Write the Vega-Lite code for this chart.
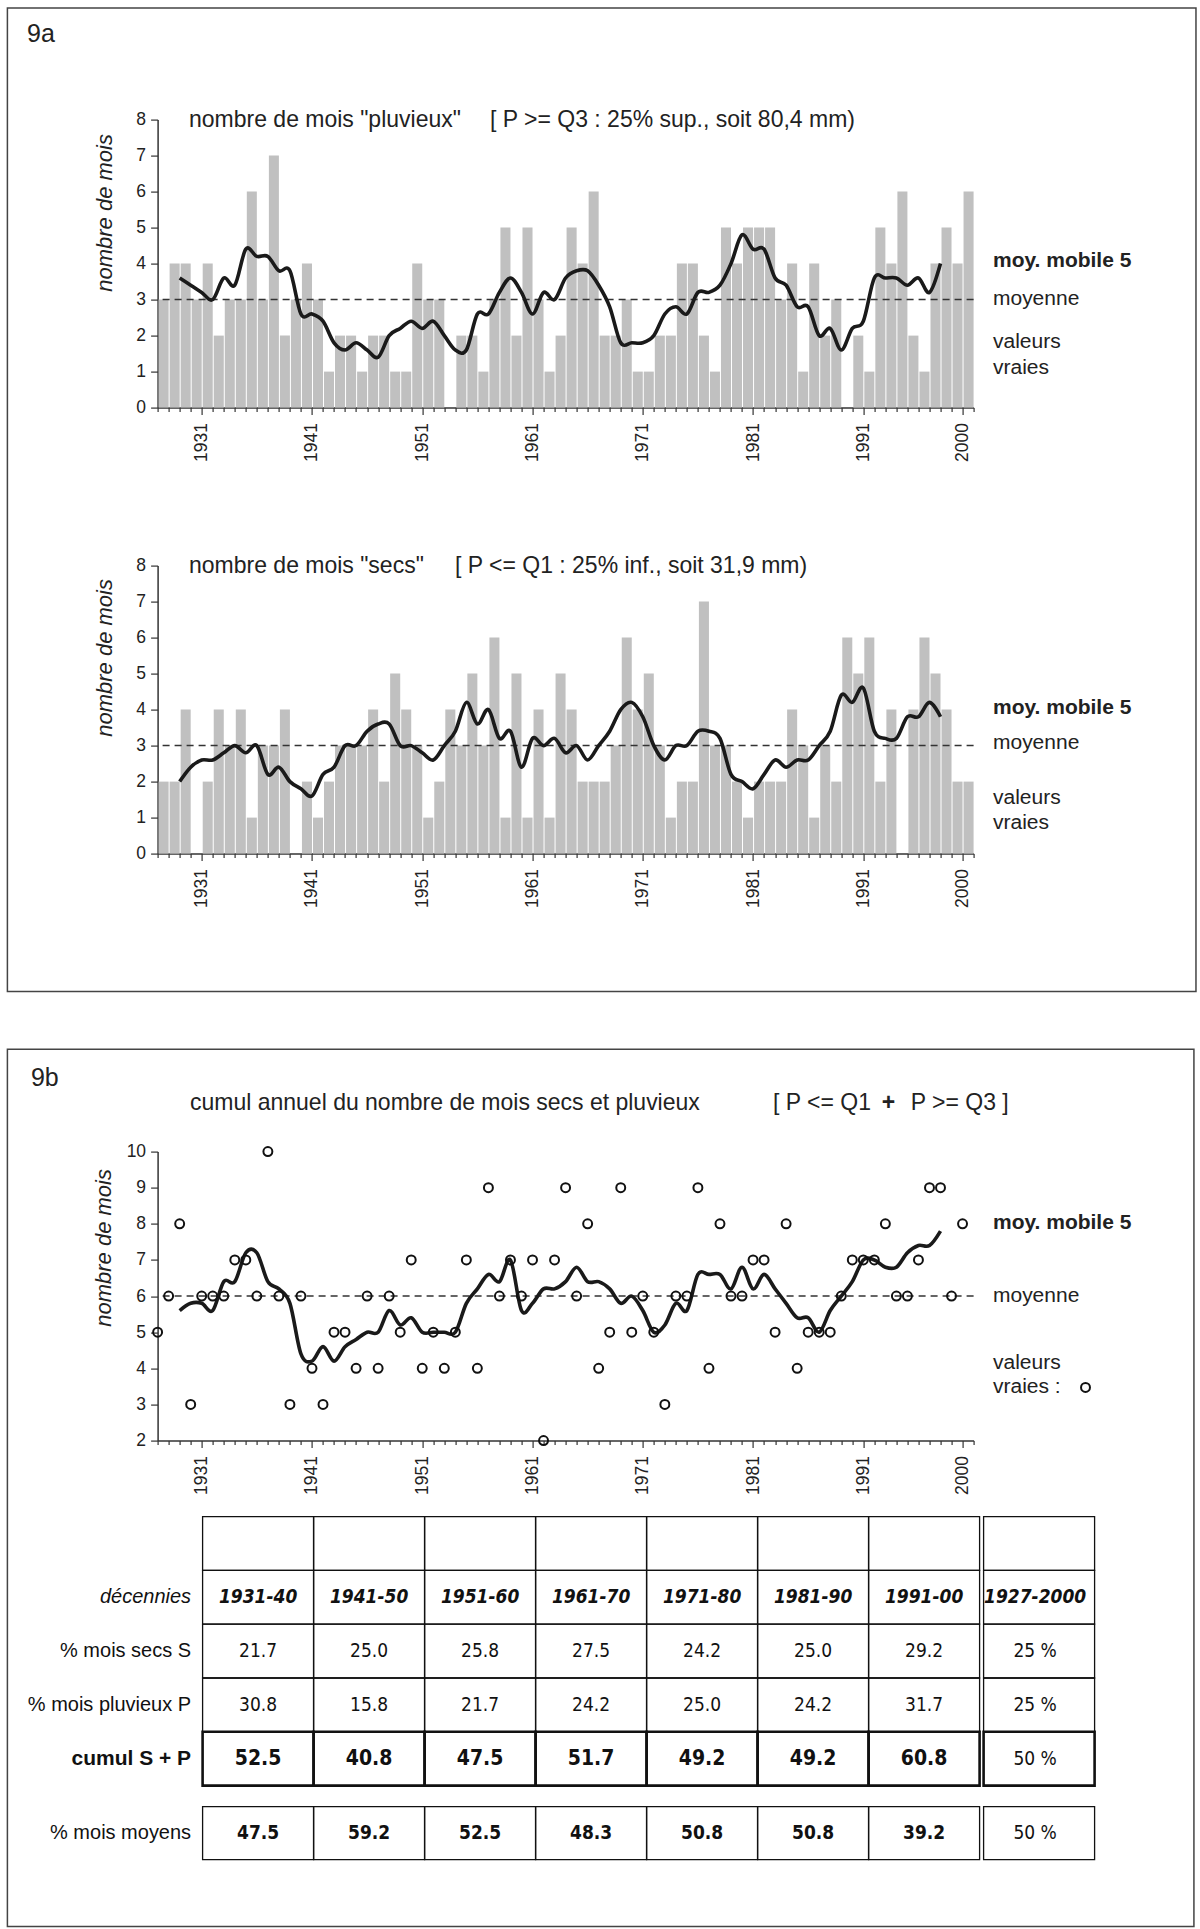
{
 "$schema": "https://vega.github.io/schema/vega-lite/v6.json",
 "padding": {"left": 6.6, "top": 6.6, "right": 2, "bottom": 2},
 "background": "white",
 "datasets": {
  "years": [
   {"year":"1927","P":3,"S":2,"T":5},{"year":"1928","P":4,"S":2,"T":6},{"year":"1929","P":4,"S":4,"T":8},{"year":"1930","P":3,"S":0,"T":3},
   {"year":"1931","P":4,"S":2,"T":6},{"year":"1932","P":2,"S":4,"T":6},{"year":"1933","P":3,"S":3,"T":6},{"year":"1934","P":3,"S":4,"T":7},
   {"year":"1935","P":6,"S":1,"T":7},{"year":"1936","P":3,"S":3,"T":6},{"year":"1937","P":7,"S":3,"T":10},{"year":"1938","P":2,"S":4,"T":6},
   {"year":"1939","P":3,"S":0,"T":3},{"year":"1940","P":4,"S":2,"T":6},{"year":"1941","P":3,"S":1,"T":4},{"year":"1942","P":1,"S":2,"T":3},
   {"year":"1943","P":2,"S":3,"T":5},{"year":"1944","P":2,"S":3,"T":5},{"year":"1945","P":1,"S":3,"T":4},{"year":"1946","P":2,"S":4,"T":6},
   {"year":"1947","P":2,"S":2,"T":4},{"year":"1948","P":1,"S":5,"T":6},{"year":"1949","P":1,"S":4,"T":5},{"year":"1950","P":4,"S":3,"T":7},
   {"year":"1951","P":3,"S":1,"T":4},{"year":"1952","P":3,"S":2,"T":5},{"year":"1953","P":0,"S":4,"T":4},{"year":"1954","P":2,"S":3,"T":5},
   {"year":"1955","P":2,"S":5,"T":7},{"year":"1956","P":1,"S":3,"T":4},{"year":"1957","P":3,"S":6,"T":9},{"year":"1958","P":5,"S":1,"T":6},
   {"year":"1959","P":2,"S":5,"T":7},{"year":"1960","P":5,"S":1,"T":6},{"year":"1961","P":3,"S":4,"T":7},{"year":"1962","P":1,"S":1,"T":2},
   {"year":"1963","P":2,"S":5,"T":7},{"year":"1964","P":5,"S":4,"T":9},{"year":"1965","P":4,"S":2,"T":6},{"year":"1966","P":6,"S":2,"T":8},
   {"year":"1967","P":2,"S":2,"T":4},{"year":"1968","P":2,"S":3,"T":5},{"year":"1969","P":3,"S":6,"T":9},{"year":"1970","P":1,"S":4,"T":5},
   {"year":"1971","P":1,"S":5,"T":6},{"year":"1972","P":2,"S":3,"T":5},{"year":"1973","P":2,"S":1,"T":3},{"year":"1974","P":4,"S":2,"T":6},
   {"year":"1975","P":4,"S":2,"T":6},{"year":"1976","P":2,"S":7,"T":9},{"year":"1977","P":1,"S":3,"T":4},{"year":"1978","P":5,"S":3,"T":8},
   {"year":"1979","P":4,"S":2,"T":6},{"year":"1980","P":5,"S":1,"T":6},{"year":"1981","P":5,"S":2,"T":7},{"year":"1982","P":5,"S":2,"T":7},
   {"year":"1983","P":3,"S":2,"T":5},{"year":"1984","P":4,"S":4,"T":8},{"year":"1985","P":1,"S":3,"T":4},{"year":"1986","P":4,"S":1,"T":5},
   {"year":"1987","P":2,"S":3,"T":5},{"year":"1988","P":3,"S":2,"T":5},{"year":"1989","P":0,"S":6,"T":6},{"year":"1990","P":2,"S":5,"T":7},
   {"year":"1991","P":1,"S":6,"T":7},{"year":"1992","P":5,"S":2,"T":7},{"year":"1993","P":4,"S":4,"T":8},{"year":"1994","P":6,"S":0,"T":6},
   {"year":"1995","P":2,"S":4,"T":6},{"year":"1996","P":1,"S":6,"T":7},{"year":"1997","P":4,"S":5,"T":9},{"year":"1998","P":5,"S":4,"T":9},
   {"year":"1999","P":4,"S":2,"T":6},{"year":"2000","P":6,"S":2,"T":8}
  ],
  "ma": [
   {"year":"1929","P":3.6,"S":2.0,"T":5.6},{"year":"1930","P":3.4,"S":2.4,"T":5.8},{"year":"1931","P":3.2,"S":2.6,"T":5.8},{"year":"1932","P":3.0,"S":2.6,"T":5.6},
   {"year":"1933","P":3.6,"S":2.8,"T":6.4},{"year":"1934","P":3.4,"S":3.0,"T":6.4},{"year":"1935","P":4.4,"S":2.8,"T":7.2},{"year":"1936","P":4.2,"S":3.0,"T":7.2},
   {"year":"1937","P":4.2,"S":2.2,"T":6.4},{"year":"1938","P":3.8,"S":2.4,"T":6.2},{"year":"1939","P":3.8,"S":2.0,"T":5.8},{"year":"1940","P":2.6,"S":1.8,"T":4.4},
   {"year":"1941","P":2.6,"S":1.6,"T":4.2},{"year":"1942","P":2.4,"S":2.2,"T":4.6},{"year":"1943","P":1.8,"S":2.4,"T":4.2},{"year":"1944","P":1.6,"S":3.0,"T":4.6},
   {"year":"1945","P":1.8,"S":3.0,"T":4.8},{"year":"1946","P":1.6,"S":3.4,"T":5.0},{"year":"1947","P":1.4,"S":3.6,"T":5.0},{"year":"1948","P":2.0,"S":3.6,"T":5.6},
   {"year":"1949","P":2.2,"S":3.0,"T":5.2},{"year":"1950","P":2.4,"S":3.0,"T":5.4},{"year":"1951","P":2.2,"S":2.8,"T":5.0},{"year":"1952","P":2.4,"S":2.6,"T":5.0},
   {"year":"1953","P":2.0,"S":3.0,"T":5.0},{"year":"1954","P":1.6,"S":3.4,"T":5.0},{"year":"1955","P":1.6,"S":4.2,"T":5.8},{"year":"1956","P":2.6,"S":3.6,"T":6.2},
   {"year":"1957","P":2.6,"S":4.0,"T":6.6},{"year":"1958","P":3.2,"S":3.2,"T":6.4},{"year":"1959","P":3.6,"S":3.4,"T":7.0},{"year":"1960","P":3.2,"S":2.4,"T":5.6},
   {"year":"1961","P":2.6,"S":3.2,"T":5.8},{"year":"1962","P":3.2,"S":3.0,"T":6.2},{"year":"1963","P":3.0,"S":3.2,"T":6.2},{"year":"1964","P":3.6,"S":2.8,"T":6.4},
   {"year":"1965","P":3.8,"S":3.0,"T":6.8},{"year":"1966","P":3.8,"S":2.6,"T":6.4},{"year":"1967","P":3.4,"S":3.0,"T":6.4},{"year":"1968","P":2.8,"S":3.4,"T":6.2},
   {"year":"1969","P":1.8,"S":4.0,"T":5.8},{"year":"1970","P":1.8,"S":4.2,"T":6.0},{"year":"1971","P":1.8,"S":3.8,"T":5.6},{"year":"1972","P":2.0,"S":3.0,"T":5.0},
   {"year":"1973","P":2.6,"S":2.6,"T":5.2},{"year":"1974","P":2.8,"S":3.0,"T":5.8},{"year":"1975","P":2.6,"S":3.0,"T":5.6},{"year":"1976","P":3.2,"S":3.4,"T":6.6},
   {"year":"1977","P":3.2,"S":3.4,"T":6.6},{"year":"1978","P":3.4,"S":3.2,"T":6.6},{"year":"1979","P":4.0,"S":2.2,"T":6.2},{"year":"1980","P":4.8,"S":2.0,"T":6.8},
   {"year":"1981","P":4.4,"S":1.8,"T":6.2},{"year":"1982","P":4.4,"S":2.2,"T":6.6},{"year":"1983","P":3.6,"S":2.6,"T":6.2},{"year":"1984","P":3.4,"S":2.4,"T":5.8},
   {"year":"1985","P":2.8,"S":2.6,"T":5.4},{"year":"1986","P":2.8,"S":2.6,"T":5.4},{"year":"1987","P":2.0,"S":3.0,"T":5.0},{"year":"1988","P":2.2,"S":3.4,"T":5.6},
   {"year":"1989","P":1.6,"S":4.4,"T":6.0},{"year":"1990","P":2.2,"S":4.2,"T":6.4},{"year":"1991","P":2.4,"S":4.6,"T":7.0},{"year":"1992","P":3.6,"S":3.4,"T":7.0},
   {"year":"1993","P":3.6,"S":3.2,"T":6.8},{"year":"1994","P":3.6,"S":3.2,"T":6.8},{"year":"1995","P":3.4,"S":3.8,"T":7.2},{"year":"1996","P":3.6,"S":3.8,"T":7.4},
   {"year":"1997","P":3.2,"S":4.2,"T":7.4},{"year":"1998","P":4.0,"S":3.8,"T":7.8}
  ],
  "table": [
   {"row":"vide","col":"1931-40","v":""},{"row":"vide","col":"1941-50","v":""},{"row":"vide","col":"1951-60","v":""},{"row":"vide","col":"1961-70","v":""},
   {"row":"vide","col":"1971-80","v":""},{"row":"vide","col":"1981-90","v":""},{"row":"vide","col":"1991-00","v":""},{"row":"vide","col":"1927-2000","v":""},
   {"row":"décennies","col":"1931-40","v":"1931-40"},{"row":"décennies","col":"1941-50","v":"1941-50"},{"row":"décennies","col":"1951-60","v":"1951-60"},{"row":"décennies","col":"1961-70","v":"1961-70"},
   {"row":"décennies","col":"1971-80","v":"1971-80"},{"row":"décennies","col":"1981-90","v":"1981-90"},{"row":"décennies","col":"1991-00","v":"1991-00"},{"row":"décennies","col":"1927-2000","v":"1927-2000"},
   {"row":"% mois secs S","col":"1931-40","v":"21.7"},{"row":"% mois secs S","col":"1941-50","v":"25.0"},{"row":"% mois secs S","col":"1951-60","v":"25.8"},{"row":"% mois secs S","col":"1961-70","v":"27.5"},
   {"row":"% mois secs S","col":"1971-80","v":"24.2"},{"row":"% mois secs S","col":"1981-90","v":"25.0"},{"row":"% mois secs S","col":"1991-00","v":"29.2"},{"row":"% mois secs S","col":"1927-2000","v":"25 %"},
   {"row":"% mois pluvieux P","col":"1931-40","v":"30.8"},{"row":"% mois pluvieux P","col":"1941-50","v":"15.8"},{"row":"% mois pluvieux P","col":"1951-60","v":"21.7"},{"row":"% mois pluvieux P","col":"1961-70","v":"24.2"},
   {"row":"% mois pluvieux P","col":"1971-80","v":"25.0"},{"row":"% mois pluvieux P","col":"1981-90","v":"24.2"},{"row":"% mois pluvieux P","col":"1991-00","v":"31.7"},{"row":"% mois pluvieux P","col":"1927-2000","v":"25 %"},
   {"row":"cumul S + P","col":"1931-40","v":"52.5"},{"row":"cumul S + P","col":"1941-50","v":"40.8"},{"row":"cumul S + P","col":"1951-60","v":"47.5"},{"row":"cumul S + P","col":"1961-70","v":"51.7"},
   {"row":"cumul S + P","col":"1971-80","v":"49.2"},{"row":"cumul S + P","col":"1981-90","v":"49.2"},{"row":"cumul S + P","col":"1991-00","v":"60.8"},{"row":"cumul S + P","col":"1927-2000","v":"50 %"},
   {"row":"% mois moyens","col":"1931-40","v":"47.5"},{"row":"% mois moyens","col":"1941-50","v":"59.2"},{"row":"% mois moyens","col":"1951-60","v":"52.5"},{"row":"% mois moyens","col":"1961-70","v":"48.3"},
   {"row":"% mois moyens","col":"1971-80","v":"50.8"},{"row":"% mois moyens","col":"1981-90","v":"50.8"},{"row":"% mois moyens","col":"1991-00","v":"39.2"},{"row":"% mois moyens","col":"1927-2000","v":"50 %"}
  ]
 },
 "vconcat": [
  {
   "width": 816, "height": 288,
   "resolve": {"axis": {"x": "independent", "y": "independent"}},
   "layer": [
    {"data": {"name": "years"},
     "mark": {"type": "bar", "color": "#c0c0c0", "timeUnitBandSize": 1, "timeUnitBandPosition": 0},
     "encoding": {
      "x": {"field": "year", "timeUnit": "utcyear", "type": "temporal",
            "scale": {"type": "utc", "domain": [{"year": 1927, "utc": true}, {"year": 2001, "utc": true}], "nice": false},
            "axis": {"title": null, "grid": false, "tickCount": {"interval": "year", "step": 1},
                     "labelExpr": "indexof([1931,1941,1951,1961,1971,1981,1991,2000], utcyear(datum.value)) >= 0 ? '' + utcyear(datum.value) : ''",
                     "labelAngle": 270, "labelFontSize": 17.5, "labelPadding": 8, "labelOverlap": false, "labelBound": false, "labelFlush": false,
                     "tickSize": {"condition": {"test": "indexof([1931,1941,1951,1961,1971,1981,1991,2000], utcyear(datum.value)) >= 0", "value": 7}, "value": 4},
                     "domainWidth": 1.5, "tickWidth": 1.2}},
      "y": {"field": "P", "type": "quantitative", "scale": {"domain": [0, 8], "nice": false},
            "axis": {"title": "nombre de mois", "values": [0,1,2,3,4,5,6,7,8], "labelOverlap": false, "grid": false, "labelFontSize": 17.5, "tickSize": 7, "labelPadding": 5,
                     "titleFontSize": 22, "titleFontStyle": "italic", "titleFontWeight": "normal", "titleAnchor": "end", "titleAngle": 270,
                     "titleAlign": "right", "titleBaseline": "middle", "titleX": -53, "titleY": 14, "domainWidth": 1.5, "tickWidth": 1.2}}
     }},
    {"data": {"values": [{}]}, "mark": {"type": "rule", "color": "#333", "strokeWidth": 1.5, "strokeDash": [7, 5]},
     "encoding": {"y": {"datum": 3, "type": "quantitative", "axis": null}}},
    {"data": {"name": "ma"}, "mark": {"type": "line", "interpolate": "cardinal", "color": "#1a1a1a", "strokeWidth": 3.6, "timeUnitBandPosition": 0.5},
     "encoding": {"x": {"field": "year", "timeUnit": "utcyear", "type": "temporal", "axis": null, "scale": {"type": "utc", "domain": [{"year": 1927, "utc": true}, {"year": 2001, "utc": true}], "nice": false}},
                  "y": {"field": "P", "type": "quantitative", "axis": null, "scale": {"domain": [0, 8], "nice": false}}}},
    {"data": {"values": [{}]}, "mark": {"type": "text", "text": "9a", "fontSize": 25},
     "encoding": {"x": {"datum": {"year": 1915, "month": 3, "date": 1, "utc": true}, "type": "temporal", "axis": null}, "y": {"datum": 10.39, "type": "quantitative", "axis": null}}},
    {"data": {"values": [{}]}, "mark": {"type": "text", "text": "nombre de mois \"pluvieux\"", "fontSize": 23},
     "encoding": {"x": {"datum": {"year": 1929, "month": 11, "date": 7, "utc": true}, "type": "temporal", "axis": null}, "y": {"datum": 8, "type": "quantitative", "axis": null}}},
    {"data": {"values": [{}]}, "mark": {"type": "text", "text": "[ P >= Q3 : 25% sup., soit 80,4 mm)", "fontSize": 23},
     "encoding": {"x": {"datum": {"year": 1957, "month": 2, "date": 22, "utc": true}, "type": "temporal", "axis": null}, "y": {"datum": 8, "type": "quantitative", "axis": null}}},
    {"data": {"values": [{}]}, "mark": {"type": "text", "text": "moy. mobile 5", "fontWeight": "bold"},
     "encoding": {"x": {"datum": {"year": 2002, "month": 10, "date": 5, "utc": true}, "type": "temporal", "axis": null}, "y": {"datum": 4.06, "type": "quantitative", "axis": null}}},
    {"data": {"values": [{}]}, "mark": {"type": "text", "text": "moyenne"},
     "encoding": {"x": {"datum": {"year": 2002, "month": 10, "date": 5, "utc": true}, "type": "temporal", "axis": null}, "y": {"datum": 3.03, "type": "quantitative", "axis": null}}},
    {"data": {"values": [{}]}, "mark": {"type": "text", "text": "valeurs"},
     "encoding": {"x": {"datum": {"year": 2002, "month": 10, "date": 5, "utc": true}, "type": "temporal", "axis": null}, "y": {"datum": 1.81, "type": "quantitative", "axis": null}}},
    {"data": {"values": [{}]}, "mark": {"type": "text", "text": "vraies"},
     "encoding": {"x": {"datum": {"year": 2002, "month": 10, "date": 5, "utc": true}, "type": "temporal", "axis": null}, "y": {"datum": 1.11, "type": "quantitative", "axis": null}}},
    {"data": {"values": [{}]}, "mark": {"type": "rect", "fillOpacity": 0, "stroke": "#444", "strokeWidth": 1.5},
     "encoding": {"x": {"datum": {"year": 1913, "month": 5, "date": 19, "utc": true}, "type": "temporal", "axis": null},
                  "x2": {"datum": {"year": 2021, "month": 3, "date": 3, "utc": true}},
                  "y": {"datum": 11.1, "type": "quantitative", "axis": null}, "y2": {"datum": -16.22}}}
   ]
  },
  {"data": {"values": []}, "mark": {"type": "point"}, "encoding": {}, "width": 10, "height": 158},
  {
   "width": 816, "height": 288,
   "resolve": {"axis": {"x": "independent", "y": "independent"}},
   "layer": [
    {"data": {"name": "years"},
     "mark": {"type": "bar", "color": "#c0c0c0", "timeUnitBandSize": 1, "timeUnitBandPosition": 0},
     "encoding": {
      "x": {"field": "year", "timeUnit": "utcyear", "type": "temporal",
            "scale": {"type": "utc", "domain": [{"year": 1927, "utc": true}, {"year": 2001, "utc": true}], "nice": false},
            "axis": {"title": null, "grid": false, "tickCount": {"interval": "year", "step": 1},
                     "labelExpr": "indexof([1931,1941,1951,1961,1971,1981,1991,2000], utcyear(datum.value)) >= 0 ? '' + utcyear(datum.value) : ''",
                     "labelAngle": 270, "labelFontSize": 17.5, "labelPadding": 8, "labelOverlap": false, "labelBound": false, "labelFlush": false,
                     "tickSize": {"condition": {"test": "indexof([1931,1941,1951,1961,1971,1981,1991,2000], utcyear(datum.value)) >= 0", "value": 7}, "value": 4},
                     "domainWidth": 1.5, "tickWidth": 1.2}},
      "y": {"field": "S", "type": "quantitative", "scale": {"domain": [0, 8], "nice": false},
            "axis": {"title": "nombre de mois", "values": [0,1,2,3,4,5,6,7,8], "labelOverlap": false, "grid": false, "labelFontSize": 17.5, "tickSize": 7, "labelPadding": 5,
                     "titleFontSize": 22, "titleFontStyle": "italic", "titleFontWeight": "normal", "titleAnchor": "end", "titleAngle": 270,
                     "titleAlign": "right", "titleBaseline": "middle", "titleX": -53, "titleY": 13, "domainWidth": 1.5, "tickWidth": 1.2}}
     }},
    {"data": {"values": [{}]}, "mark": {"type": "rule", "color": "#333", "strokeWidth": 1.5, "strokeDash": [7, 5]},
     "encoding": {"y": {"datum": 3, "type": "quantitative", "axis": null}}},
    {"data": {"name": "ma"}, "mark": {"type": "line", "interpolate": "cardinal", "color": "#1a1a1a", "strokeWidth": 3.6, "timeUnitBandPosition": 0.5},
     "encoding": {"x": {"field": "year", "timeUnit": "utcyear", "type": "temporal", "axis": null, "scale": {"type": "utc", "domain": [{"year": 1927, "utc": true}, {"year": 2001, "utc": true}], "nice": false}},
                  "y": {"field": "S", "type": "quantitative", "axis": null, "scale": {"domain": [0, 8], "nice": false}}}},
    {"data": {"values": [{}]}, "mark": {"type": "text", "text": "nombre de mois \"secs\"", "fontSize": 23},
     "encoding": {"x": {"datum": {"year": 1929, "month": 11, "date": 7, "utc": true}, "type": "temporal", "axis": null}, "y": {"datum": 8, "type": "quantitative", "axis": null}}},
    {"data": {"values": [{}]}, "mark": {"type": "text", "text": "[ P <= Q1 : 25% inf., soit 31,9 mm)", "fontSize": 23},
     "encoding": {"x": {"datum": {"year": 1953, "month": 12, "date": 20, "utc": true}, "type": "temporal", "axis": null}, "y": {"datum": 8, "type": "quantitative", "axis": null}}},
    {"data": {"values": [{}]}, "mark": {"type": "text", "text": "moy. mobile 5", "fontWeight": "bold"},
     "encoding": {"x": {"datum": {"year": 2002, "month": 10, "date": 5, "utc": true}, "type": "temporal", "axis": null}, "y": {"datum": 4.04, "type": "quantitative", "axis": null}}},
    {"data": {"values": [{}]}, "mark": {"type": "text", "text": "moyenne"},
     "encoding": {"x": {"datum": {"year": 2002, "month": 10, "date": 5, "utc": true}, "type": "temporal", "axis": null}, "y": {"datum": 3.08, "type": "quantitative", "axis": null}}},
    {"data": {"values": [{}]}, "mark": {"type": "text", "text": "valeurs"},
     "encoding": {"x": {"datum": {"year": 2002, "month": 10, "date": 5, "utc": true}, "type": "temporal", "axis": null}, "y": {"datum": 1.54, "type": "quantitative", "axis": null}}},
    {"data": {"values": [{}]}, "mark": {"type": "text", "text": "vraies"},
     "encoding": {"x": {"datum": {"year": 2002, "month": 10, "date": 5, "utc": true}, "type": "temporal", "axis": null}, "y": {"datum": 0.86, "type": "quantitative", "axis": null}}}
   ]
  },
  {"data": {"values": []}, "mark": {"type": "point"}, "encoding": {}, "width": 10, "height": 298},
  {
   "width": 816, "height": 289,
   "resolve": {"axis": {"x": "independent", "y": "independent"}},
   "layer": [
    {"data": {"values": [{}]}, "mark": {"type": "rule", "color": "#333", "strokeWidth": 1.5, "strokeDash": [7, 5]},
     "encoding": {"y": {"datum": 6, "type": "quantitative", "scale": {"domain": [2, 10], "nice": false},
            "axis": {"title": "nombre de mois", "values": [2,3,4,5,6,7,8,9,10], "labelOverlap": false, "grid": false, "labelFontSize": 17.5, "tickSize": 7, "labelPadding": 5,
                     "titleFontSize": 22, "titleFontStyle": "italic", "titleFontWeight": "normal", "titleAnchor": "end", "titleAngle": 270,
                     "titleAlign": "right", "titleBaseline": "middle", "titleX": -54, "titleY": 17, "domainWidth": 1.5, "tickWidth": 1.2}}}},
    {"data": {"name": "ma"}, "mark": {"type": "line", "interpolate": "cardinal", "color": "#1a1a1a", "strokeWidth": 3.6, "timeUnitBandPosition": 0.4},
     "encoding": {"x": {"field": "year", "timeUnit": "utcyear", "type": "temporal",
            "scale": {"type": "utc", "domain": [{"year": 1927, "utc": true}, {"year": 2001, "utc": true}], "nice": false},
            "axis": {"title": null, "grid": false, "tickCount": {"interval": "year", "step": 1},
                     "labelExpr": "indexof([1931,1941,1951,1961,1971,1981,1991,2000], utcyear(datum.value)) >= 0 ? '' + utcyear(datum.value) : ''",
                     "labelAngle": 270, "labelFontSize": 17.5, "labelPadding": 8, "labelOverlap": false, "labelBound": false, "labelFlush": false,
                     "tickSize": {"condition": {"test": "indexof([1931,1941,1951,1961,1971,1981,1991,2000], utcyear(datum.value)) >= 0", "value": 7}, "value": 4},
                     "domainWidth": 1.5, "tickWidth": 1.2}},
                  "y": {"field": "T", "type": "quantitative", "axis": null, "scale": {"domain": [2, 10], "nice": false}}}},
    {"data": {"name": "years"}, "mark": {"type": "point", "shape": "circle", "filled": false, "color": "#111", "strokeWidth": 2, "size": 80, "opacity": 1, "timeUnitBandPosition": 0.3},
     "encoding": {"x": {"field": "year", "timeUnit": "utcyear", "type": "temporal", "axis": null, "scale": {"type": "utc", "domain": [{"year": 1927, "utc": true}, {"year": 2001, "utc": true}], "nice": false}},
                  "y": {"field": "T", "type": "quantitative", "axis": null, "scale": {"domain": [2, 10], "nice": false}}}},
    {"data": {"values": [{}]}, "mark": {"type": "text", "text": "9b", "fontSize": 25},
     "encoding": {"x": {"datum": {"year": 1915, "month": 7, "date": 8, "utc": true}, "type": "temporal", "axis": null}, "y": {"datum": 12.05, "type": "quantitative", "axis": null}}},
    {"data": {"values": [{}]}, "mark": {"type": "text", "text": "cumul annuel du nombre de mois secs et pluvieux", "fontSize": 23},
     "encoding": {"x": {"datum": {"year": 1929, "month": 12, "date": 10, "utc": true}, "type": "temporal", "axis": null}, "y": {"datum": 11.34, "type": "quantitative", "axis": null}}},
    {"data": {"values": [{}]}, "mark": {"type": "text", "text": "[ P <= Q1", "fontSize": 23},
     "encoding": {"x": {"datum": {"year": 1982, "month": 10, "date": 24, "utc": true}, "type": "temporal", "axis": null}, "y": {"datum": 11.34, "type": "quantitative", "axis": null}}},
    {"data": {"values": [{}]}, "mark": {"type": "text", "text": "+", "fontWeight": "bold", "align": "center", "fontSize": 23},
     "encoding": {"x": {"datum": {"year": 1993, "month": 4, "date": 15, "utc": true}, "type": "temporal", "axis": null}, "y": {"datum": 11.34, "type": "quantitative", "axis": null}}},
    {"data": {"values": [{}]}, "mark": {"type": "text", "text": "P >= Q3 ]", "fontSize": 23},
     "encoding": {"x": {"datum": {"year": 1995, "month": 4, "date": 22, "utc": true}, "type": "temporal", "axis": null}, "y": {"datum": 11.34, "type": "quantitative", "axis": null}}},
    {"data": {"values": [{}]}, "mark": {"type": "text", "text": "moy. mobile 5", "fontWeight": "bold"},
     "encoding": {"x": {"datum": {"year": 2002, "month": 10, "date": 5, "utc": true}, "type": "temporal", "axis": null}, "y": {"datum": 8.03, "type": "quantitative", "axis": null}}},
    {"data": {"values": [{}]}, "mark": {"type": "text", "text": "moyenne"},
     "encoding": {"x": {"datum": {"year": 2002, "month": 10, "date": 5, "utc": true}, "type": "temporal", "axis": null}, "y": {"datum": 5.99, "type": "quantitative", "axis": null}}},
    {"data": {"values": [{}]}, "mark": {"type": "text", "text": "valeurs"},
     "encoding": {"x": {"datum": {"year": 2002, "month": 10, "date": 5, "utc": true}, "type": "temporal", "axis": null}, "y": {"datum": 4.15, "type": "quantitative", "axis": null}}},
    {"data": {"values": [{}]}, "mark": {"type": "text", "text": "vraies :"},
     "encoding": {"x": {"datum": {"year": 2002, "month": 10, "date": 5, "utc": true}, "type": "temporal", "axis": null}, "y": {"datum": 3.47, "type": "quantitative", "axis": null}}},
    {"data": {"values": [{}]}, "mark": {"type": "point", "shape": "circle", "filled": false, "color": "#111", "strokeWidth": 2, "size": 80, "opacity": 1},
     "encoding": {"x": {"datum": {"year": 2011, "month": 2, "date": 25, "utc": true}, "type": "temporal", "axis": null}, "y": {"datum": 3.47, "type": "quantitative", "axis": null}}},
    {"data": {"values": [{}]}, "mark": {"type": "rect", "fillOpacity": 0, "stroke": "#444", "strokeWidth": 1.5},
     "encoding": {"x": {"datum": {"year": 1913, "month": 5, "date": 19, "utc": true}, "type": "temporal", "axis": null},
                  "x2": {"datum": {"year": 2020, "month": 12, "date": 25, "utc": true}},
                  "y": {"datum": 12.83, "type": "quantitative", "axis": null}, "y2": {"datum": -11.45}}}
   ]
  },
  {"data": {"values": []}, "mark": {"type": "point"}, "encoding": {}, "width": 10, "height": 76},
  {
   "width": 933, "height": 269,
   "data": {"name": "table"},
   "transform": [{"filter": "datum.row !== '% mois moyens'"}],
   "encoding": {
    "x": {"field": "col", "type": "nominal", "scale": {"domain": ["1931-40","1941-50","1951-60","1961-70","1971-80","1981-90","1991-00","1927-2000"], "paddingInner": 0, "paddingOuter": 0.2027, "align": 1}, "axis": null},
    "y": {"field": "row", "type": "nominal", "scale": {"domain": ["vide","décennies","% mois secs S","% mois pluvieux P","cumul S + P"], "paddingInner": 0, "paddingOuter": 0},
          "axis": {"title": null, "domain": false, "ticks": false, "offset": -45, "labelPadding": 12, "labelColor": "#111",
                   "labelExpr": "datum.value === 'vide' ? '' : datum.value",
                   "labelFontSize": {"condition": {"test": "datum.value === 'cumul S + P'", "value": 21}, "value": 20},
                   "labelFontStyle": {"condition": {"test": "datum.value === 'décennies'", "value": "italic"}, "value": "normal"},
                   "labelFontWeight": {"condition": {"test": "datum.value === 'cumul S + P'", "value": "bold"}, "value": "normal"}}}
   },
   "layer": [
    {"transform": [{"filter": "datum.col !== '1927-2000'"}], "mark": {"type": "rect", "fillOpacity": 0, "stroke": "#111"},
     "encoding": {"strokeWidth": {"condition": {"test": "datum.row === 'cumul S + P'", "value": 2.6}, "value": 1.3}}},
    {"transform": [{"filter": "datum.col === '1927-2000'"}], "mark": {"type": "rect", "fillOpacity": 0, "stroke": "#111", "xOffset": 4, "x2Offset": 4},
     "encoding": {"strokeWidth": {"condition": {"test": "datum.row === 'cumul S + P'", "value": 2.6}, "value": 1.3}}},
    {"transform": [{"filter": "datum.row === '% mois secs S' || datum.row === '% mois pluvieux P' || (datum.row === 'cumul S + P' && datum.col === '1927-2000')"}],
     "mark": {"type": "text", "font": "Liberation Sans Narrow, DejaVu Sans Condensed, Liberation Sans", "fontSize": 19, "align": "center", "color": "#111"},
     "encoding": {"text": {"field": "v"}}},
    {"transform": [{"filter": "datum.row === 'cumul S + P' && datum.col !== '1927-2000'"}],
     "mark": {"type": "text", "font": "Liberation Sans Narrow, DejaVu Sans Condensed, Liberation Sans", "fontSize": 21, "fontWeight": "bold", "align": "center", "color": "#111"},
     "encoding": {"text": {"field": "v"}}},
    {"transform": [{"filter": "datum.row === 'décennies'"}],
     "mark": {"type": "text", "font": "Liberation Sans Narrow, DejaVu Sans Condensed, Liberation Sans", "fontSize": 19, "fontWeight": "bold", "fontStyle": "italic", "align": "center", "color": "#111"},
     "encoding": {"text": {"field": "v"}}}
   ]
  },
  {"data": {"values": []}, "mark": {"type": "point"}, "encoding": {}, "width": 10, "height": 21},
  {
   "width": 933, "height": 53,
   "data": {"name": "table"},
   "transform": [{"filter": "datum.row === '% mois moyens'"}],
   "encoding": {
    "x": {"field": "col", "type": "nominal", "scale": {"domain": ["1931-40","1941-50","1951-60","1961-70","1971-80","1981-90","1991-00","1927-2000"], "paddingInner": 0, "paddingOuter": 0.2027, "align": 1}, "axis": null},
    "y": {"field": "row", "type": "nominal", "scale": {"domain": ["% mois moyens"], "paddingInner": 0, "paddingOuter": 0},
          "axis": {"title": null, "domain": false, "ticks": false, "offset": -45, "labelPadding": 12, "labelFontSize": 20, "labelColor": "#111"}}
   },
   "layer": [
    {"transform": [{"filter": "datum.col !== '1927-2000'"}], "mark": {"type": "rect", "fillOpacity": 0, "stroke": "#111", "strokeWidth": 1.3}},
    {"transform": [{"filter": "datum.col === '1927-2000'"}], "mark": {"type": "rect", "fillOpacity": 0, "stroke": "#111", "strokeWidth": 1.3, "xOffset": 4, "x2Offset": 4}},
    {"transform": [{"filter": "datum.col !== '1927-2000'"}],
     "mark": {"type": "text", "font": "Liberation Sans Narrow, DejaVu Sans Condensed, Liberation Sans", "fontSize": 19, "fontWeight": "bold", "align": "center", "color": "#111"},
     "encoding": {"text": {"field": "v"}}},
    {"transform": [{"filter": "datum.col === '1927-2000'"}],
     "mark": {"type": "text", "font": "Liberation Sans Narrow, DejaVu Sans Condensed, Liberation Sans", "fontSize": 19, "align": "center", "color": "#111"},
     "encoding": {"text": {"field": "v"}}}
   ]
  }
 ],
 "spacing": 0,
 "bounds": "flush",
 "config": {
  "view": {"stroke": null},
  "font": "Liberation Sans",
  "text": {"font": "Liberation Sans", "fontSize": 21, "color": "#222", "align": "left", "baseline": "middle"},
  "axis": {"labelFont": "Liberation Sans", "titleFont": "Liberation Sans", "labelColor": "#222", "titleColor": "#222", "domainColor": "#333", "tickColor": "#333"}
 }
}
